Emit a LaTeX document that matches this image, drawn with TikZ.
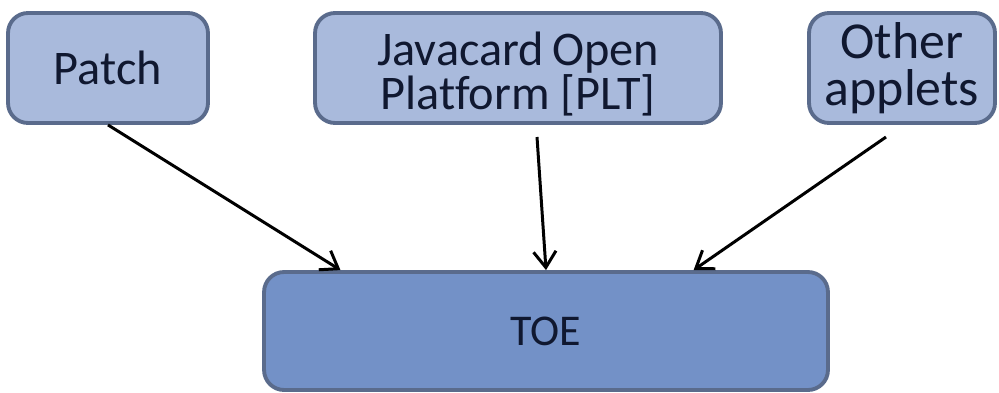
\documentclass[tikz,border=0pt]{standalone}
\usepackage{fontspec}
\setmainfont{Carlito}[Ligatures=NoCommon]
\usetikzlibrary{arrows.meta, calc}
\definecolor{boxfill}{HTML}{A9BADC}
\definecolor{toefill}{HTML}{7391C7}
\definecolor{boxline}{HTML}{5A6B8C}
\definecolor{textcol}{HTML}{101830}

\begin{document}
\begin{tikzpicture}[x=0.02cm, y=-0.02cm,
        block/.style={draw=boxline, line width=2.2pt, rounded corners=0.4cm, align=center, text=textcol,
            font=\fontsize{27.5}{25}\selectfont, inner sep=0pt},
        feed/.style={-{Straight Barb[length=0.32cm, width=0.45cm]}, line width=1.7pt}]
        \useasboundingbox (0,0) rectangle (999,392);
        \node[block, fill=boxfill, minimum width=4cm, minimum height=2.2cm] (patch) at (108,68) {Patch};
        \node[block, fill=boxfill, minimum width=8.12cm, minimum height=2.2cm] (plt) at (518,68) {\rule{0pt}{26pt}Javacard\,Open\\Platform [PLT]};
        \node[block, fill=boxfill, minimum width=3.72cm, minimum height=2.2cm,
            font=\fontsize{29.5}{27}\selectfont] (other) at (902,68) {Other\\applets};
        \node[block, fill=toefill, minimum width=11.28cm, minimum height=2.36cm,
            font=\fontsize{25}{25}\selectfont] (toe) at (546,331) {TOE};
        \coordinate (pltout) at (537,137);
        \coordinate (otherout) at (886,137);
        \draw[feed] (patch.south) -- ($(toe.north west)!0.138!(toe.north east)$);
        \draw[feed] (pltout) -- (toe.north);
        \draw[feed] (otherout) -- ($(toe.north west)!0.76!(toe.north east)$);
    \end{tikzpicture}
\end{document}
